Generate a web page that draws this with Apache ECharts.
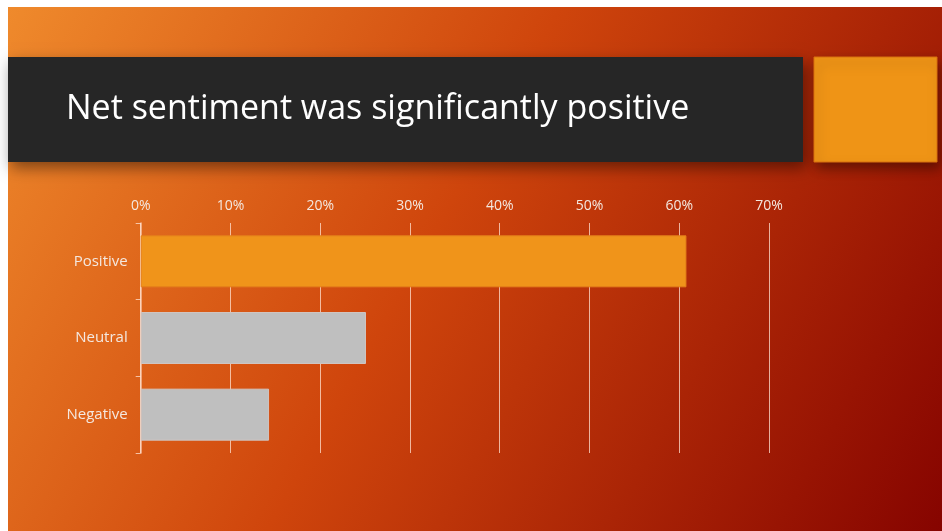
<!DOCTYPE html>
<html>
<head>
<meta charset="utf-8">
<script src="https://cdn.jsdelivr.net/npm/echarts@6/dist/echarts.min.js"></script>
<style>
html,body{margin:0;padding:0;background:#ffffff;}
#chart{width:942px;height:531px;}
</style>
</head>
<body>
<div id="chart"></div>
<script>
var titleText = 'Net sentiment was significantly positive';
var categories = ['Positive', 'Neutral', 'Negative'];
var values = [60.8, 25.1, 14.3];
var barColors = ['#F0941A', '#BFBFBF', '#BFBFBF'];
var barBorders = ['#E5801A', '#D0C4C0', '#D0C4C0'];
var axisMin = 0, axisMax = 70, axisStep = 10;

var chart = echarts.init(document.getElementById('chart'));
chart.setOption({
  animation: false,
  backgroundColor: '#ffffff',
  graphic: [
    { type: 'rect', z: -10, shape: { x: 8, y: 7, width: 934, height: 524 },
      style: { fill: new echarts.graphic.LinearGradient(0, 0, 1, 1, [
        { offset: 0, color: '#EF8A2C' },
        { offset: 0.45, color: '#CF450C' },
        { offset: 1, color: '#860400' }
      ]) } },
    { type: 'rect', z: -5, shape: { x: 8, y: 57, width: 795, height: 105 },
      style: { fill: '#262626', shadowBlur: 14, shadowOffsetX: 3, shadowOffsetY: 6, shadowColor: 'rgba(0,0,0,0.45)' } },
    { type: 'rect', z: -5, shape: { x: 814, y: 57, width: 123, height: 105 },
      style: { fill: '#EF9416', stroke: '#D9700E', lineWidth: 1, shadowBlur: 12, shadowOffsetX: 3, shadowOffsetY: 6, shadowColor: 'rgba(0,0,0,0.4)' } },
    { type: 'text', z: 10, left: 66, top: 92,
      style: { text: titleText, fill: '#ffffff', font: '34px "Open Sans", sans-serif' } }
  ],
  grid: { left: 140.7, right: 173, top: 223, bottom: 78, containLabel: false },
  xAxis: {
    type: 'value', position: 'top', min: axisMin, max: axisMax, interval: axisStep,
    axisLine: { show: false }, axisTick: { show: false },
    axisLabel: { formatter: '{value}%', color: '#F4E8E0', fontSize: 14, fontFamily: '"Open Sans", sans-serif', margin: 10 },
    splitLine: { show: true, lineStyle: { color: 'rgba(255,225,210,0.75)', width: 1 } }
  },
  yAxis: {
    type: 'category', data: categories, inverse: true,
    axisLine: { show: true, lineStyle: { color: 'rgba(255,225,210,0.75)', width: 1.5 } },
    axisTick: { show: true, length: 5, lineStyle: { color: 'rgba(255,225,210,0.75)' } },
    axisLabel: { color: '#F4E8E0', fontSize: 15, fontFamily: '"Open Sans", sans-serif', margin: 13 }
  },
  series: [{
    type: 'bar', barWidth: 52,
    data: values.map(function (v, i) {
      return { value: v, itemStyle: { color: barColors[i], borderColor: barBorders[i], borderWidth: 1 } };
    })
  }]
});
</script>
</body>
</html>
